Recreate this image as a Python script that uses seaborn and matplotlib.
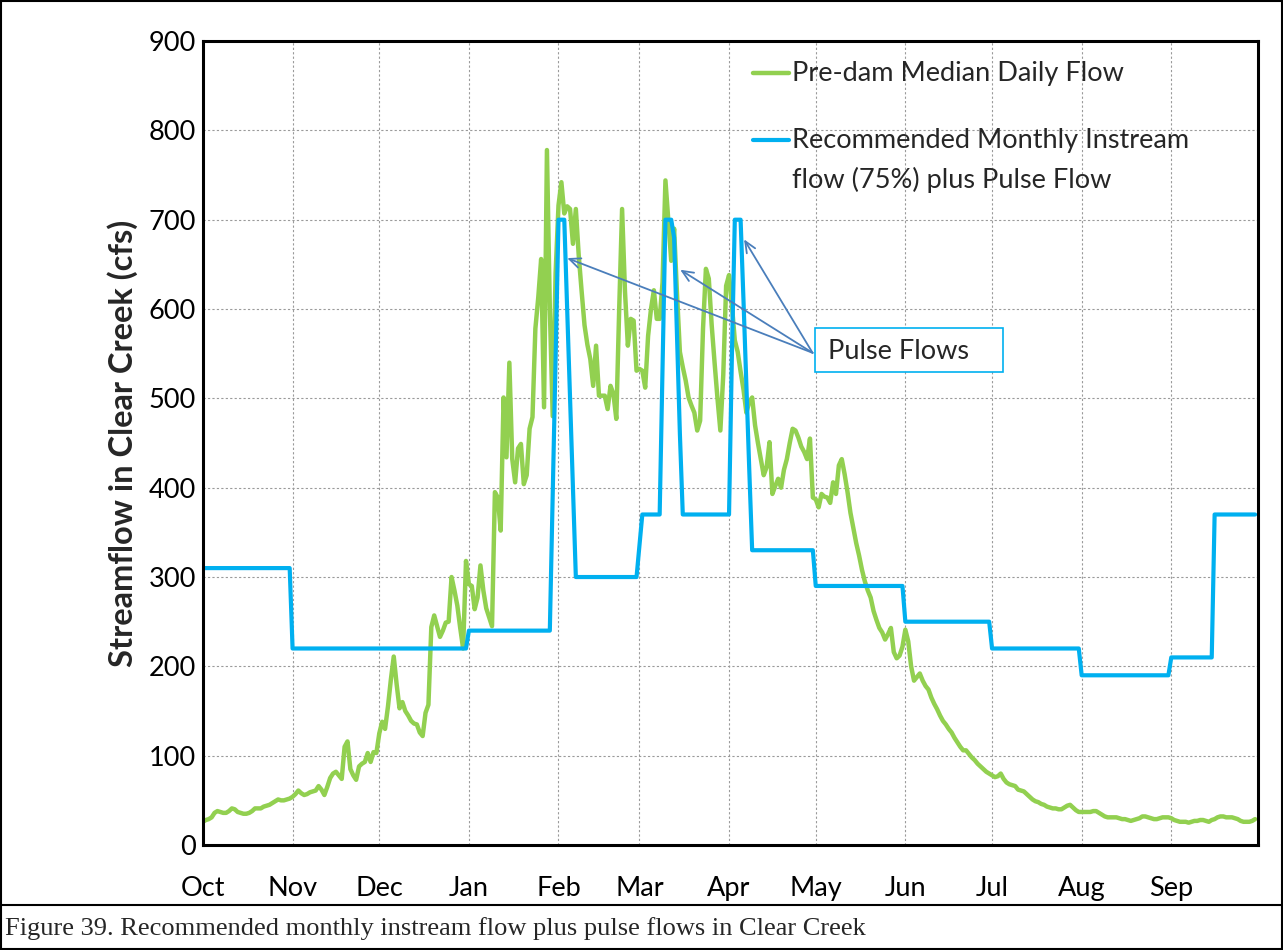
import numpy as np
import pandas as pd
import seaborn as sns
import matplotlib.pyplot as plt
from matplotlib.patches import Rectangle
from matplotlib.lines import Line2D

# Water-year months (Oct -> Sep)
months = ['Oct', 'Nov', 'Dec', 'Jan', 'Feb', 'Mar', 'Apr', 'May', 'Jun', 'Jul', 'Aug', 'Sep']
month_days = [31, 30, 31, 31, 28, 31, 30, 31, 30, 31, 31, 30]

# Pre-dam median daily flow (cfs)
oct_flow = [26, 28, 29, 31, 36, 38, 37, 36, 36, 38, 41, 40, 37, 36, 35, 35, 36, 38, 41, 41,
            41, 43, 44, 45, 47, 49, 51, 50, 50, 51, 52]
nov_flow = [54, 57, 61, 58, 56, 57, 59, 60, 61, 66, 62, 56, 65, 75, 80, 82, 78, 74, 110, 116,
            85, 78, 73, 88, 91, 93, 103, 93, 104, 103]
dec_flow = [125, 138, 130, 155, 185, 211, 180, 153, 160, 150, 145, 139, 136, 135, 126, 122,
            148, 157, 244, 257, 245, 233, 240, 249, 250, 300, 285, 268, 243, 220, 318]
jan_flow = [292, 290, 264, 277, 313, 285, 265, 255, 245, 395, 389, 352, 501, 434, 540, 432,
            406, 444, 449, 404, 414, 466, 479, 578, 613, 656, 490, 778, 600, 480, 640]
feb_flow = [716, 742, 707, 715, 712, 673, 712, 660, 620, 582, 560, 544, 514, 559, 503, 503,
            503, 488, 514, 505, 477, 600, 712, 620, 559, 589, 587, 531]
mar_flow = [533, 531, 512, 570, 600, 621, 589, 589, 630, 744, 699, 654, 690, 617, 552, 535,
            520, 501, 492, 484, 464, 475, 578, 645, 634, 582, 540, 500, 464, 526, 626]
apr_flow = [638, 604, 565, 552, 530, 510, 484, 496, 501, 470, 450, 432, 414, 423, 451, 393,
            402, 410, 400, 420, 432, 450, 466, 464, 456, 446, 440, 432, 455, 389]
may_flow = [387, 378, 393, 390, 389, 383, 406, 393, 425, 432, 415, 395, 372, 355, 338, 324,
            308, 295, 285, 277, 262, 252, 243, 238, 230, 236, 243, 216, 209, 212, 222]
jun_flow = [241, 228, 200, 184, 188, 192, 184, 178, 174, 165, 158, 152, 145, 139, 135, 130,
            126, 120, 115, 110, 106, 106, 102, 98, 95, 91, 88, 85, 82, 80]
jul_flow = [78, 76, 77, 80, 74, 70, 68, 67, 66, 62, 61, 60, 57, 54, 51, 49, 48, 46, 45, 43,
            42, 41, 41, 40, 40, 42, 44, 45, 42, 39, 37]
aug_flow = [37, 37, 37, 37, 38, 38, 36, 34, 32, 31, 31, 31, 31, 30, 29, 29, 28, 27, 28, 29,
            30, 32, 32, 31, 30, 29, 29, 30, 31, 31, 31]
sep_flow = [30, 28, 27, 26, 26, 26, 25, 26, 27, 27, 28, 28, 27, 26, 28, 29, 31, 32, 32, 31,
            31, 31, 30, 29, 27, 26, 26, 26, 27, 29]

# Recommended monthly instream flow (75%) and the pulse-flow days
base_flow = [310, 220, 220, 240, 300, 370, 330, 290, 250, 220, 190, 210]
pulse_days = [121, 122, 123, 124, 125, 126, 127, 128,
              151, 159, 160, 161, 162, 163, 164, 165,
              182, 183, 184, 185, 186, 187, 188, 189]
pulse_vals = [390, 545, 700, 700, 700, 600, 500, 400,
              335, 535, 700, 700, 700, 680, 570, 460,
              370, 550, 700, 700, 700, 610, 515, 420]
late_sep_start = 350
late_sep_flow = 370

predam = np.concatenate([oct_flow, nov_flow, dec_flow, jan_flow, feb_flow, mar_flow,
                         apr_flow, may_flow, jun_flow, jul_flow, aug_flow, sep_flow])
recommended = np.repeat(base_flow, month_days).astype(float)
recommended[pulse_days] = pulse_vals
recommended[late_sep_start:] = late_sep_flow

days = np.arange(len(predam))
df = pd.DataFrame({'day': days, 'predam': predam, 'recommended': recommended})

sns.set_style('white')
plt.rcParams['font.family'] = ['Lato', 'DejaVu Sans']

fig = plt.figure(figsize=(12.83, 9.5), dpi=100)
ax = fig.add_axes([0.1582, 0.1105, 0.8223, 0.8463])

green = '#92D050'
blue = '#00B0F0'
sns.lineplot(data=df, x='day', y='predam', color=green, lw=3.2, ax=ax)
sns.lineplot(data=df, x='day', y='recommended', color=blue, lw=3, ax=ax)

ax.set_xlim(0, 365)
ax.set_ylim(0, 900)
month_starts = np.concatenate([[0], np.cumsum(month_days)])
ax.set_xticks(month_starts)
ax.set_xticklabels(months + [''])
ax.set_yticks(range(0, 901, 100))
ax.grid(True, color='#9a9a9a', linestyle=(0, (2, 2)), lw=0.8)
ax.set_axisbelow(True)
for s in ax.spines.values():
    s.set_visible(True)
    s.set_color('black')
    s.set_linewidth(2.2)
ax.tick_params(axis='both', direction='in', length=7, width=2.2, colors='black',
               labelsize=19.5)
ax.tick_params(axis='x', pad=22)
ax.tick_params(axis='y', pad=5)
ax.set_xlabel('')
ax.set_ylabel('Streamflow in Clear Creek (cfs)', fontsize=23.5, fontweight='bold', labelpad=8)

# legend drawn by hand so the blue sample sits on the first text line
ax.add_line(Line2D([0.521, 0.555], [0.9602, 0.9602], transform=ax.transAxes, color=green, lw=3.2))
ax.text(0.558, 0.9602, 'Pre-dam Median Daily Flow', transform=ax.transAxes,
        fontsize=19.5, va='center')
ax.add_line(Line2D([0.521, 0.555], [0.8769, 0.8769], transform=ax.transAxes, color=blue, lw=3))
ax.text(0.558, 0.8769, 'Recommended Monthly Instream', transform=ax.transAxes,
        fontsize=19.5, va='center')
ax.text(0.558, 0.8271, 'flow (75%) plus Pulse Flow', transform=ax.transAxes,
        fontsize=19.5, va='center')

# Pulse flow call-out
ax.add_patch(Rectangle((211.7, 529.8), 65.1, 49.3, fc='white', ec=blue, lw=1.2, zorder=4))
ax.text(216.3, 553, 'Pulse Flows', fontsize=19.5, va='center', ha='left', zorder=5)
for hx, hy in [(126.0, 657), (165.1, 644), (187.2, 678)]:
    ax.annotate('', xy=(hx, hy), xytext=(210.9, 551),
                arrowprops=dict(arrowstyle='->,head_length=0.8,head_width=0.35',
                                color='#4A7EBB', lw=1.3, shrinkA=0, shrinkB=0))

# figure frame and caption
fig.add_artist(Rectangle((0.001, 0.001), 0.998, 0.998, transform=fig.transFigure,
                         fill=False, ec='black', lw=1.5))
fig.add_artist(Line2D([0, 1], [0.0474, 0.0474], transform=fig.transFigure, color='black', lw=1.5))
fig.text(0.004, 0.023, 'Figure 39. Recommended monthly instream flow plus pulse flows in Clear Creek',
         family='Liberation Serif', fontsize=19, va='center', ha='left')

fig.savefig('out.png', dpi=100)
